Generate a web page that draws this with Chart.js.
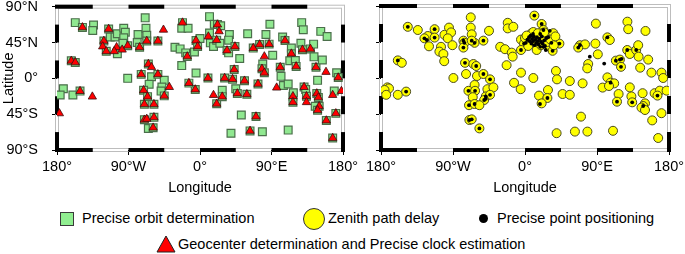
<!DOCTYPE html>
<html>
<head>
<meta charset="utf-8">
<script src="https://cdn.jsdelivr.net/npm/chart.js@4.4.1/dist/chart.umd.min.js"></script>
<style>
  html, body { margin: 0; padding: 0; background: #fff; }
  #wrap { position: relative; width: 685px; height: 254px; overflow: hidden; font-family: 'Liberation Sans', Arial, sans-serif; }
  #mapL { position: absolute; left: 0; top: 0; }
  #mapR { position: absolute; left: 362px; top: 0; }
  .lg { position: absolute; font-size: 14.5px; line-height: 16px; color: #000; white-space: nowrap; }
  .sq { position: absolute; left: 60px; top: 212px; width: 14px; height: 14px; box-sizing: border-box; background: #90ee90; border: 1.5px solid #3a3a3a; }
  .ci { position: absolute; left: 303px; top: 208px; width: 22px; height: 22px; box-sizing: border-box; border-radius: 50%; background: #ffff00; border: 1.2px solid #333; }
  .dot { position: absolute; left: 479px; top: 214px; width: 9px; height: 9px; border-radius: 50%; background: #000; }
  .tri { position: absolute; left: 156px; top: 235px; }
</style>
</head>
<body>
<div id="wrap">
  <canvas id="mapL" width="362" height="200"></canvas>
  <canvas id="mapR" width="323" height="200"></canvas>

  <div class="sq"></div>
  <div class="lg" style="left:82px;top:210px;">Precise orbit determination</div>
  <div class="ci"></div>
  <div class="lg" style="left:328px;top:210px;">Zenith path delay</div>
  <div class="dot"></div>
  <div class="lg" style="left:497px;top:210px;">Precise point positioning</div>
  <svg class="tri" width="20" height="18"><polygon points="10,1 19,17 1,17" fill="#ff0000" stroke="#222" stroke-width="1"/></svg>
  <div class="lg" style="left:178px;top:236px;">Geocenter determination and Precise clock estimation</div>
</div>

<script>
// axis ticks
const lonTicks = [-180, -90, 0, 90, 180];
const lonLabels = ['180°', '90°W', '0°', '90°E', '180°'];
const latTicks = [-90, -45, 0, 45, 90];
const latLabels = ['90°S', '45°S', '0°', '45°N', '90°N'];

// [lon, lat] of stations
const podSites = [
  [-157,70],[-148,64],[-134,67],[-135,60],[-115,62],[-121,47],[-118,34],[-113,52],[-107,52],[-104,56],
  [-96,63],[-94,58],[-96,51],[-104,31],[-91,41],[-97,44],[-78,55],[-79,45],[-76,39],[-69,76],
  [-68,63],[-67,54],[-67,47],[-53,47],[-91,0],[-162,22],[-157,20],[-172,-13],[-176,-21],[-160,-21],
  [-151,-16],[-65,18],[-74,5],[-61,2],[-64,-7.5],[-53,5],[-45,-2.5],[-48,-11],[-49,-16],[-71,-15],
  [-66,-23],[-45,-22],[-70,-32.5],[-58,-32.5],[-70,-52],[-58,-49],[-65,-63],[-59,-62],
  [-22,70],[-23,63],[-15,63],[-31.5,39],[-25,37],[-18,32],[-16,27.5],[-23,16],[-7,33],[-5,47.5],
  [-3,40],[0,50],[-5,6.7],[-6,-14],[-14,-6],
  [12,77.5],[12,57],[13,44.6],[17,40],[18,68],[22,67.5],[26,66],[21,48],[25,44],[37,55],
  [36,48],[34,35],[36,32],[44,40],[50,25],[43,11],[10,0.4],[31,0.4],[41,-1],[21,-32],
  [28,-15],[28,-23],[45,-13],[47,-19],[56,-3],[59,-20],[52,-46],[60,56],[67,38],[75,42.5],
  [63,-66],[39,-69],[70.5,-48],[78.5,-67],
  [88,68],[83,55],[87,43],[79,18],[78,12],[81,7],[91.5,29],[73,-7],[101,14],[102,2.5],
  [105,-9],[111,-7],[104,52],[107,47.5],[115,38],[115,31],[113,22],[117,-22.5],[117.5,-18],[117,-30],
  [120,22.5],[121,15],[111,-65],[127,44],[129,36],[128,70],[130,61],[131,-11],[133,-14],[134,-22.5],
  [139,37],[143,43],[143.5,27],[146,14],[148,-2.5],[147,-19],[149,-24],[150,-35],[145,-35],[148,-40],
  [152,59],[160,52.5],[154,23],[159,-53],[169,-16],[172,7],[174,1],[171,-44],[167,-75]
];

const gcSites = [
  [-148,64],[-115,62],[-121,47],[-122.5,40],[-118,34],[-105,39],[-108,34],[-98,36],[-91,41],[-76,39],
  [-67,47],[-53,47],[-46,61],[-162,22],[-157,20],[-151,-16],[-135.5,-23],[-177,-44],[-65,18],[-61,14],
  [-74,5],[-53,5],[-71,-15],[-38.6,-11],[-66,-23],[-45,-22],[-70,-32.5],[-58,-32.5],[-70,-52],[-67,-51],
  [-58,-49],[-59,-62],[-22,70],[-16,27.5],[-5,47.5],[-3,40],[-6,-14],[-14,-6],[10.5,52.5],[22,67.5],
  [24,59],[21,48],[34,35],[44,40],[43,11],[10,0.4],[31,0.4],[41,-1],[17,-21],[21,-32],
  [28,-23],[47,-19],[56,-3],[59,-20],[67,38],[75,42.5],[87,43],[63,-66],[70.5,-48],[81,27.5],
  [78,12],[81,7],[73,-7],[96.5,-11.7],[101,14],[107,47.5],[115,31],[117,-22.5],[117,-30],[121,15],
  [129,36],[131,-11],[134,-22.5],[134,-30],[139,37],[146,14],[147,-19],[149,-24],[150,-35],[148,-40],
  [158.6,8],[159,-53],[167,-21],[174,1],[178,-16],[171,-44],[167,-75]
];

const ztdSites = [
  [-146.5,64],[-134,60],[-121.5,52.5],[-113,61],[-113,50.5],[-125.7,49.6],[-120,39.6],[-100.7,54],[-95,63],[-92.4,57],
  [-96.5,49.6],[-90.7,41],[-105,39],[-107,33],[-102,30],[-101,21],[-159,22],[-154,19],[-89.5,0],[-172,-11.7],
  [-170,-13],[-175.6,-15],[-173.5,-21],[-159,-21],[-148.6,-17],
  [-67.8,75.8],[-67.8,63],[-66.6,54.6],[-45,59],[-77,46.7],[-75.7,44],[-77,38],[-63,44],[-66.6,46.7],[-52,46.7],
  [-75,19],[-64.5,17.5],[-61,15],[-73.7,5],[-60,2.5],[-52,5],[-43.7,-1.7],[-63,-8.7],[-70.7,-16],[-62.4,-16],
  [-65.3,-24],[-47,-14],[-39.5,-11.7],[-49,-23],[-43.7,-21],[-51,-27.5],[-70,-34],[-63,-32.5],[-57,-34],[-69.5,-52.5],
  [-66.6,-51.7],[-57,-63],
  [-21.6,69],[-21.6,62],[-14.6,64],[-31,39],[-25,36],[-16.6,31.7],[-15.4,26.7],[-23,16],[-5,48],[-1.2,43],
  [-5,35],[-5,6.7],[-13.7,-6],[-5.4,-14],
  [11.7,78],[20.8,67.5],[23,60],[2,51],[8,55.8],[10.4,57.5],[16.6,51],[20.8,55.8],[25,49.6],[29,53.8],
  [35.4,56],[37.5,45.4],[31,39],[34.5,34],[43,43],[14.6,35],[6,43],[12.5,46],[20,41],[0,50],
  [2,53],[4,40],[16,56],[24,57],[28,45],[32,48],[36,41],[38,52],
  [88.6,68],[128,70.4],[129,61],[150.6,58.8],[103,50.8],[106,47.5],[88,43],[68.7,41],[75,42],[66.6,38],
  [91,29.6],[79,17.5],[77.8,12],[113.6,21.7],[118.6,23],[120,14],[127.8,35],[131,30],[139,35],[141.5,41],
  [142,26.7],[154,23],[144,12.9],[158,6.7],[170.6,6.7],[172.7,0],[103,0.8],[107,-5.8],[111.5,-6.7],[97,-12],
  [105,-10],[38.7,8.8],[40,-1.7],[56,-3.8],[72,-6.7],[10.4,0],[28.7,-15],[17.5,-22],[28,-25],[20.8,-31.7],
  [47,-20],[56,-21],[117,-20],[115,-29.6],[133,-23],[134,-30.4],[147,-19],[131,-11.7],[162,-19],[168.5,-15.8],
  [165.6,-22],[177,-15.8],[150,-31.7],[147.7,-35],[145.6,-37],[150,-40],[159,-53],[170.6,-44],[70,-48.3],[39.5,-69],
  [62.4,-67],[78,-67],[110,-66],[166.5,-75]
];

const pppSites = [
  [-146.5,64],[-113,61],[-113,50.5],[-125.7,49.6],[-122.8,47.5],[-159,22],[-148.6,-17],[-77,46.7],[-75.7,44],[-77,38],
  [-63,44],[-66.6,46.7],[-52,46.7],[-75,19],[-61,15],[-52,5],[-43.7,-1.7],[-70.7,-16],[-62.4,-16],[-49,-23],
  [-43.7,-21],[-51,-27.5],[-49,-26],[-70,-34],[-63,-32.5],[-69.5,-52.5],[-66.6,-51.7],[-57,-63],[-1.2,43],[-5,35],
  [11.7,78],[20.8,67.5],[23,60],
  [1,44],[3,48],[5,51],[6,46],[7,53],[8,43],[9,49],[10,46],[11,52],[12,41],
  [13,48],[14,44],[15,51],[16,46],[17,42],[18,49],[19,39],[20,45],[21,52],[22,43],
  [24,47],[25,40],[27,50],[29,51],[31,59],[26,35],[23,39],[19,55],[10,55],[33,44],
  [34.5,34],[43,43],
  [103,50.8],[68.7,41],[66.6,38],[81,26.7],[99,18],[120.7,24],[113.6,21.7],[118.6,23],[120,14],[127.8,35],
  [139,35],[107,-5.8],[28,-25],[18.7,-32.5],[115,-29.6],[134,-30.4],[165.6,-22],[147.7,-35]
];

const toXY = list => list.map(([x, y]) => ({x, y}));

Chart.defaults.font.family = "'Liberation Sans', Arial, sans-serif";
Chart.defaults.font.size = 14.5;
Chart.defaults.color = '#000';

// GMT-style checkered frame
const barLon = [[-180, -135], [-90, -45], [0, 45], [90, 135]];
const barLat = [[-90, -67.5], [-45, -22.5], [0, 22.5], [45, 67.5]];
const gmtFrame = {
  id: 'gmtFrame',
  beforeDatasetsDraw(chart) {
    const {ctx, chartArea: a, scales: {x, y}} = chart;
    ctx.save();
    ctx.lineWidth = 1;
    ctx.strokeStyle = '#bdbdbd';
    ctx.strokeRect(a.left - 1.5, a.top - 1.5, a.right - a.left + 3, a.bottom - a.top + 3);
    ctx.strokeRect(a.left + 1.5, a.top + 1.5, a.right - a.left - 3, a.bottom - a.top - 3);
    ctx.fillStyle = '#000';
    barLon.forEach(([s, e]) => {
      let x0 = x.getPixelForValue(s), x1 = x.getPixelForValue(e);
      if (s === -180) x0 -= 2;
      ctx.fillRect(x0, a.top - 2, x1 - x0, 4);
      ctx.fillRect(x0, a.bottom - 2, x1 - x0, 4);
    });
    barLat.forEach(([s, e]) => {
      let y0 = y.getPixelForValue(e), y1 = y.getPixelForValue(s);
      if (s === -90) y1 += 2;
      ctx.fillRect(a.left - 2, y0, 4, y1 - y0);
      ctx.fillRect(a.right - 2, y0, 4, y1 - y0);
    });
    ctx.restore();
  }
};

function mapOptions(withLabels, yWidth, padRight) {
  return {
    responsive: false,
    animation: false,
    events: [],
    layout: {padding: {top: 6, right: padRight, left: 0, bottom: 0}},
    plugins: {legend: {display: false}, tooltip: {enabled: false}},
    scales: {
      x: {
        type: 'linear', min: -180, max: 180,
        afterBuildTicks: s => { s.ticks = lonTicks.map(v => ({value: v})); },
        afterFit: s => { s.height = 50; s.paddingLeft = 0; s.paddingRight = 0; },
        grid: {drawOnChartArea: false, tickLength: 5, color: '#000'},
        border: {display: false},
        ticks: {padding: 3, maxRotation: 0, autoSkip: false, callback: (v, i) => lonLabels[i]},
        title: {display: true, text: 'Longitude', padding: {top: 0, bottom: 3}}
      },
      y: {
        type: 'linear', min: -90, max: 90,
        afterBuildTicks: s => { s.ticks = latTicks.map(v => ({value: v})); },
        afterFit: s => { s.width = yWidth; s.paddingTop = 0; s.paddingBottom = 0; },
        grid: {drawOnChartArea: false, tickLength: 5, color: '#000'},
        border: {display: false},
        ticks: {padding: 14, autoSkip: false, callback: (v, i) => withLabels ? latLabels[i] : ''},
        title: {display: withLabels, text: 'Latitude', padding: {top: 0, bottom: 0}}
      }
    }
  };
}

new Chart(document.getElementById('mapL'), {
  type: 'scatter',
  data: {
    datasets: [
      {
        label: 'Geocenter determination and Precise clock estimation',
        data: toXY(gcSites),
        order: 1,
        pointStyle: 'triangle',
        pointRadius: 4.8,
        pointBackgroundColor: '#ff0000',
        pointBorderColor: '#3a1010',
        pointBorderWidth: 0.8
      },
      {
        label: 'Precise orbit determination',
        data: toXY(podSites),
        order: 2,
        pointStyle: 'rect',
        pointRadius: 5.5,
        pointBackgroundColor: '#90e890',
        pointBorderColor: '#4b6f4b',
        pointBorderWidth: 1.2
      }
    ]
  },
  options: mapOptions(true, 57, 19),
  plugins: [gmtFrame]
});

new Chart(document.getElementById('mapR'), {
  type: 'scatter',
  data: {
    datasets: [
      {
        label: 'Precise point positioning',
        data: toXY(pppSites),
        order: 1,
        pointStyle: 'circle',
        pointRadius: 1.9,
        pointBackgroundColor: '#000',
        pointBorderWidth: 0
      },
      {
        label: 'Zenith path delay',
        data: toXY(ztdSites),
        order: 2,
        pointStyle: 'circle',
        pointRadius: 4.5,
        pointBackgroundColor: '#ffff00',
        pointBorderColor: '#4a4a20',
        pointBorderWidth: 1
      }
    ]
  },
  options: mapOptions(false, 19, 16),
  plugins: [gmtFrame]
});
</script>
</body>
</html>
